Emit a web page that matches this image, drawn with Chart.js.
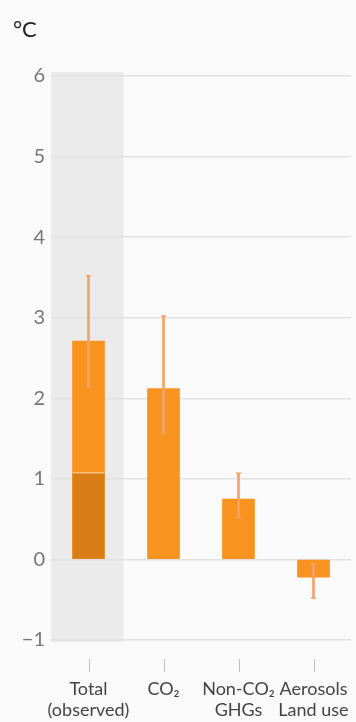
<!DOCTYPE html>
<html>
<head>
<meta charset="utf-8">
<script src="https://cdn.jsdelivr.net/npm/chart.js@4.4.1/dist/chart.umd.min.js"></script>
<style>
  html, body { margin: 0; padding: 0; background: #fafafa; }
  #wrap { position: relative; width: 356px; height: 722px; }
</style>
</head>
<body>
<div id="wrap"><canvas id="warming"></canvas></div>
<script>
const categories = [['Total', '(observed)'], 'CO₂', ['Non-CO₂', 'GHGs'], ['Aerosols', 'Land use']];
const warming    = [2.71, 2.12, 0.75, -0.22];
const observedBase = [1.08, null, null, null];   // darker lower part of the observed bar
const rangeLow   = [2.14, 1.57, 0.52, -0.48];
const rangeHigh  = [3.52, 3.02, 1.07, -0.05];
const yTicks     = [-1, 0, 1, 2, 3, 4, 5, 6];

const ORANGE = '#f7931e';
const ORANGE_DARK = '#d97d16';
const WHISKER = '#f2a368';

// grey band behind the observed column, plus the unit label and category tick marks
const decorations = {
  id: 'decorations',
  beforeDraw(chart) {
    const { ctx, chartArea, scales } = chart;
    const x = scales.x, y = scales.y;
    const cx = x.getPixelForValue(0);
    ctx.save();
    ctx.fillStyle = '#ebebeb';
    ctx.fillRect(chartArea.left, y.getPixelForValue(6) - 4, cx + 35 - chartArea.left, y.getPixelForValue(-1) - y.getPixelForValue(6) + 6);
    ctx.restore();
  },
  afterDraw(chart) {
    const { ctx, chartArea, scales } = chart;
    ctx.save();
    ctx.fillStyle = '#222';
    ctx.font = '22px Lato';
    ctx.textBaseline = 'middle';
    ctx.fillText('°C', 13, 30);
    ctx.strokeStyle = '#bdbdbd';
    ctx.lineWidth = 1;
    categories.forEach((_, i) => {
      const px = Math.round(scales.x.getPixelForValue(i)) + 0.5;
      ctx.beginPath();
      ctx.moveTo(px, chartArea.bottom + 19);
      ctx.lineTo(px, chartArea.bottom + 32);
      ctx.stroke();
    });
    // small caps on the range whiskers
    ctx.strokeStyle = WHISKER;
    ctx.lineWidth = 1.5;
    categories.forEach((_, i) => {
      const px = scales.x.getPixelForValue(i);
      [rangeLow[i], rangeHigh[i]].forEach(v => {
        const py = scales.y.getPixelForValue(v);
        ctx.beginPath();
        ctx.moveTo(px - 2.5, py);
        ctx.lineTo(px + 2.5, py);
        ctx.stroke();
      });
    });
    ctx.restore();
  }
};

new Chart(document.getElementById('warming'), {
  type: 'bar',
  data: {
    labels: categories,
    datasets: [
      {
        label: 'range',
        data: rangeLow.map((lo, i) => [lo, rangeHigh[i]]),
        backgroundColor: WHISKER,
        barThickness: 2,
        grouped: false,
        order: 0
      },
      {
        label: 'observed base',
        data: observedBase,
        backgroundColor: ORANGE_DARK,
        borderColor: '#f7c07e',
        borderWidth: { top: 1.5, left: 0, right: 0, bottom: 0 },
        borderSkipped: 'start',
        barThickness: 32,
        grouped: false,
        order: 1
      },
      {
        label: 'warming',
        data: warming,
        backgroundColor: ORANGE,
        barThickness: 32,
        grouped: false,
        order: 2
      }
    ]
  },
  options: {
    responsive: true,
    maintainAspectRatio: false,
    animation: false,
    layout: { padding: { top: 76, right: 5, left: 0, bottom: 0 } },
    plugins: { legend: { display: false }, tooltip: { enabled: false } },
    scales: {
      x: {
        grid: { display: false, drawTicks: false },
        border: { display: false },
        ticks: { color: '#444', font: { family: 'Lato', size: 18 }, padding: 38, maxRotation: 0, autoSkip: false },
        afterFit(scale) {
          scale.height = 82;
          scale.paddingLeft = 0;
          scale.paddingRight = 0;
        }
      },
      y: {
        min: -1,
        max: 6,
        afterBuildTicks(scale) { scale.ticks = yTicks.map(v => ({ value: v })); },
        grid: { color: '#e2e2e2', lineWidth: 1.5, drawTicks: false },
        border: { display: false },
        ticks: {
          color: '#777',
          font: { family: 'Lato', size: 20 },
          padding: 6,
          callback: v => v < 0 ? '−' + Math.abs(v) : String(v)
        },
        afterFit(scale) { scale.width = 51; }
      }
    }
  },
  plugins: [decorations]
});
</script>
</body>
</html>
